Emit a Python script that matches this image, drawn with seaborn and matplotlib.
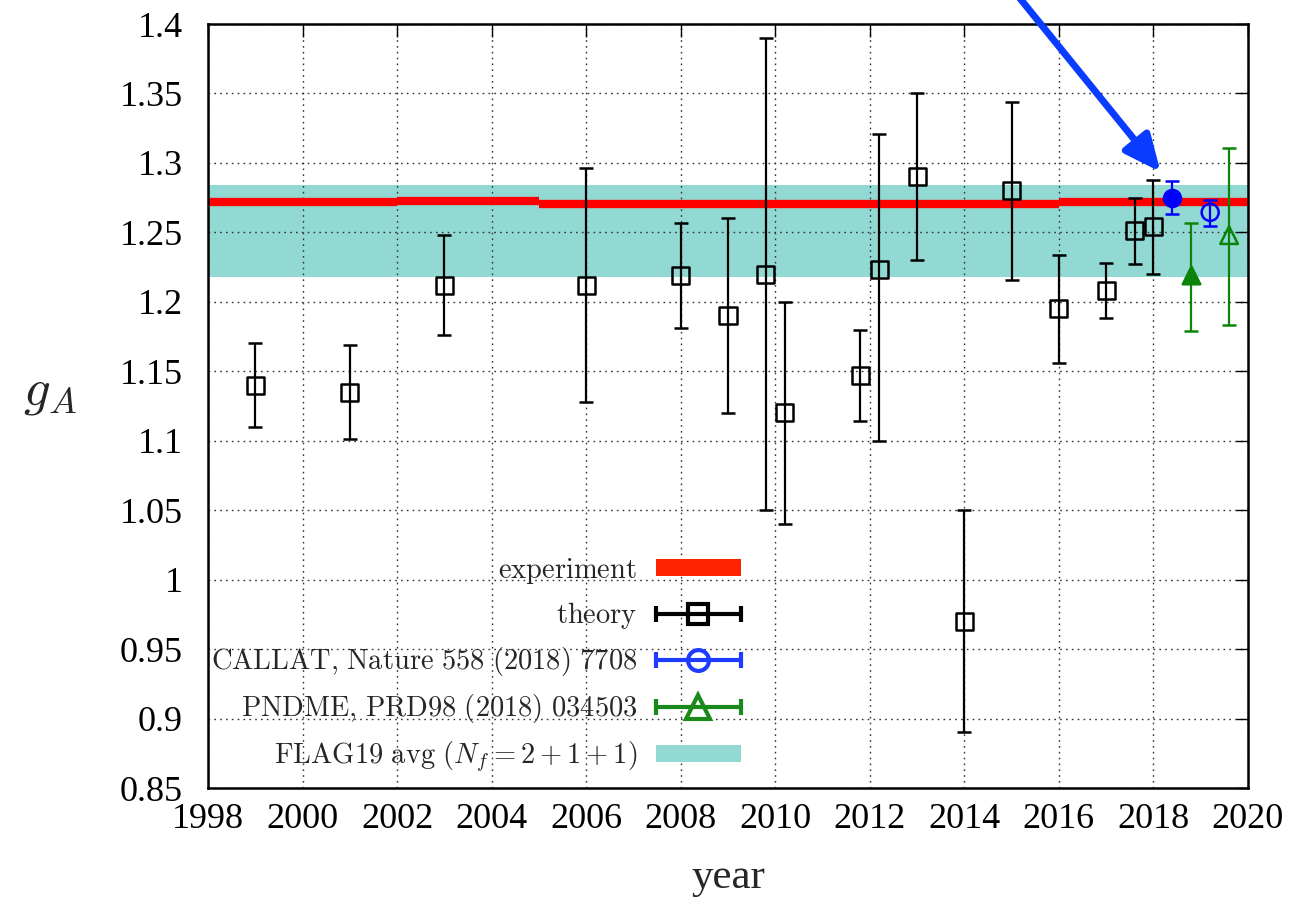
import numpy as np
import matplotlib
matplotlib.use("Agg")
import matplotlib.pyplot as plt
import seaborn as sns
from matplotlib.lines import Line2D
from matplotlib.patches import Rectangle
from matplotlib.legend_handler import HandlerBase
from matplotlib.ticker import FuncFormatter

# ---------------- data ----------------
theory_year = [1999.0, 2001.0, 2003.0, 2006.0, 2008.0, 2009.0, 2009.8, 2010.2, 2011.8,
               2012.2, 2013.0, 2014.0, 2015.0, 2016.0, 2017.0, 2017.6, 2018.0]
theory_gA = [1.140, 1.135, 1.212, 1.212, 1.219, 1.190, 1.220, 1.120, 1.147,
             1.223, 1.290, 0.970, 1.280, 1.195, 1.208, 1.251, 1.254]
theory_lo = [1.110, 1.101, 1.176, 1.128, 1.181, 1.120, 1.050, 1.040, 1.114,
             1.100, 1.230, 0.890, 1.216, 1.156, 1.188, 1.227, 1.220]
theory_hi = [1.170, 1.169, 1.248, 1.296, 1.257, 1.260, 1.390, 1.200, 1.180,
             1.321, 1.350, 1.050, 1.344, 1.234, 1.228, 1.275, 1.288]

callat_year = [2018.4, 2019.2]
callat_gA = [1.275, 1.2644]
callat_lo = [1.2632, 1.2548]
callat_hi = [1.2872, 1.2735]
callat_filled = [True, False]

pndme_year = [2018.8, 2019.6]
pndme_gA = [1.219, 1.248]
pndme_lo = [1.179, 1.183]
pndme_hi = [1.257, 1.311]
pndme_filled = [True, False]

exp_start = [1998, 2002, 2005, 2012, 2016]
exp_end = [2002, 2005, 2012, 2016, 2020]
exp_gA = [1.2717, 1.2729, 1.2701, 1.2702, 1.2720]

flag_lo = 1.218
flag_hi = 1.284

arrow_tip = (2018.15, 1.2935)
arrow_tail = (2014.9, 1.43)

x_ticks = list(range(1998, 2021, 2))
y_ticks = [0.85, 0.9, 0.95, 1.0, 1.05, 1.1, 1.15, 1.2, 1.25, 1.3, 1.35, 1.4]

labels = [r"$\mathrm{experiment}$",
          r"$\mathrm{theory}$",
          r"$\mathrm{CALLAT{,}\ Nature\ 558\ (2018)\ 7708}$",
          r"$\mathrm{PNDME{,}\ PRD98\ (2018)\ 034503}$",
          r"$\mathrm{FLAG19\ avg}\ (N_f = 2 + 1 + 1)$"]

# ---------------- style ----------------
RED = "#ff0000"
RED_LEG = "#ff2200"
CYAN = "#92d9d4"
BLUE = "#0000ff"
BLUE_LEG = "#1e3cff"
ARROW = "#0a3cff"
GREEN = "#0a850a"

sns.set_theme(style="white")
plt.rcParams["font.family"] = "serif"
plt.rcParams["font.serif"] = ["Liberation Serif", "DejaVu Serif"]
plt.rcParams["mathtext.fontset"] = "cm"

fig = plt.figure(figsize=(13.15, 9), dpi=100)
ax = fig.add_axes([208 / 1315, 1 - 788 / 900, 1040 / 1315, 764 / 900])
ax.set_axisbelow("line")

# FLAG band
ax.axhspan(flag_lo, flag_hi, color=CYAN, lw=0, zorder=1)
# experiment
ax.hlines(exp_gA, exp_start, exp_end, colors=RED, lw=6, zorder=2)

# theory
t_y = np.array(theory_gA)
ax.errorbar(theory_year, t_y, yerr=[t_y - np.array(theory_lo), np.array(theory_hi) - t_y],
            fmt="none", ecolor="black", elinewidth=1.6, capsize=5, capthick=1.8, zorder=3)
sns.scatterplot(x=theory_year, y=theory_gA, marker="s", s=150, facecolor="none",
                edgecolor="black", linewidth=1.8, ax=ax, zorder=4, legend=False)

# CALLAT
c_y = np.array(callat_gA)
ax.errorbar(callat_year, c_y, yerr=[c_y - np.array(callat_lo), np.array(callat_hi) - c_y],
            fmt="none", ecolor=BLUE, elinewidth=1.6, capsize=5, capthick=1.8, zorder=3)
for xv, yv, f in zip(callat_year, callat_gA, callat_filled):
    sns.scatterplot(x=[xv], y=[yv], marker="o", s=150, facecolor=BLUE if f else "none",
                    edgecolor=BLUE, linewidth=1.8, ax=ax, zorder=4, legend=False)

# PNDME
p_y = np.array(pndme_gA)
ax.errorbar(pndme_year, p_y, yerr=[p_y - np.array(pndme_lo), np.array(pndme_hi) - p_y],
            fmt="none", ecolor=GREEN, elinewidth=1.6, capsize=5, capthick=1.8, zorder=3)
for xv, yv, f in zip(pndme_year, pndme_gA, pndme_filled):
    sns.scatterplot(x=[xv], y=[yv], marker="^", s=160, facecolor=GREEN if f else "none",
                    edgecolor=GREEN, linewidth=1.8, ax=ax, zorder=4, legend=False)

# arrow
ax.annotate("", xy=arrow_tip, xytext=arrow_tail, annotation_clip=False,
            arrowprops=dict(arrowstyle="-|>,head_length=1.1,head_width=0.5",
                            color=ARROW, lw=5, mutation_scale=20,
                            shrinkA=0, shrinkB=0))

# axes
ax.set_xlim(1998, 2020)
ax.set_ylim(0.85, 1.4)
ax.set_xticks(x_ticks)
ax.set_yticks(y_ticks)
ax.yaxis.set_major_formatter(FuncFormatter(lambda v, p: f"{round(v, 3):g}"))
ax.grid(True, color="#333333", linestyle=(0, (1.2, 3.0)), lw=1.0)
ax.tick_params(direction="in", length=9, width=1.0, top=True, right=True,
               labelsize=26, colors="black")
ax.tick_params(axis="x", pad=11)
ax.tick_params(axis="y", pad=18)
for sp in ax.spines.values():
    sp.set_visible(True)
    sp.set_color("black")
    sp.set_linewidth(1.8)

ax.set_xlabel("year", fontsize=31, va="center")
ax.xaxis.set_label_coords(0.5, -0.118)
ax.set_ylabel(r"$g_A$", fontsize=38, rotation=0, ha="center", va="center")
ax.yaxis.set_label_coords(-0.152, 0.517)


# legend
class HErrHandler(HandlerBase):
    def __init__(self, color, marker, ms, lw=3.0, cap=11):
        super().__init__()
        self.color, self.marker, self.ms, self.lw, self.cap = color, marker, ms, lw, cap

    def create_artists(self, legend, orig_handle, xdescent, ydescent, width, height,
                       fontsize, trans):
        y = (height - ydescent) / 2
        x0, x1 = -xdescent, width - xdescent
        line = Line2D([x0, x1], [y, y], color=self.color, lw=self.lw, solid_capstyle="butt")
        caps = Line2D([x0, x1], [y, y], ls="none", marker="|", ms=self.cap,
                      mew=self.lw, color=self.color)
        mk = Line2D([(x0 + x1) / 2], [y], ls="none", marker=self.marker, ms=self.ms,
                    mfc="none", mec=self.color, mew=self.lw)
        for a in (line, caps, mk):
            a.set_transform(trans)
        return [line, caps, mk]


h_exp = Rectangle((0, 0), 1, 1, fc=RED_LEG, lw=0)
h_th = Line2D([], [])
h_ca = Line2D([], [])
h_pn = Line2D([], [])
h_fl = Rectangle((0, 0), 1, 1, fc=CYAN, lw=0)
hmap = {h_th: HErrHandler("black", "s", 14),
        h_ca: HErrHandler(BLUE_LEG, "o", 15),
        h_pn: HErrHandler("#1a8a1a", "^", 17)}
ax.legend([h_exp, h_th, h_ca, h_pn, h_fl], labels, handler_map=hmap,
          loc="lower right", bbox_to_anchor=(0.5125, 0.018), markerfirst=False,
          frameon=False, fontsize=20.5, handlelength=3.0, handleheight=0.55,
          handletextpad=0.65, labelspacing=0.5, borderpad=0, borderaxespad=0)

fig.savefig("out.png", dpi=100)
